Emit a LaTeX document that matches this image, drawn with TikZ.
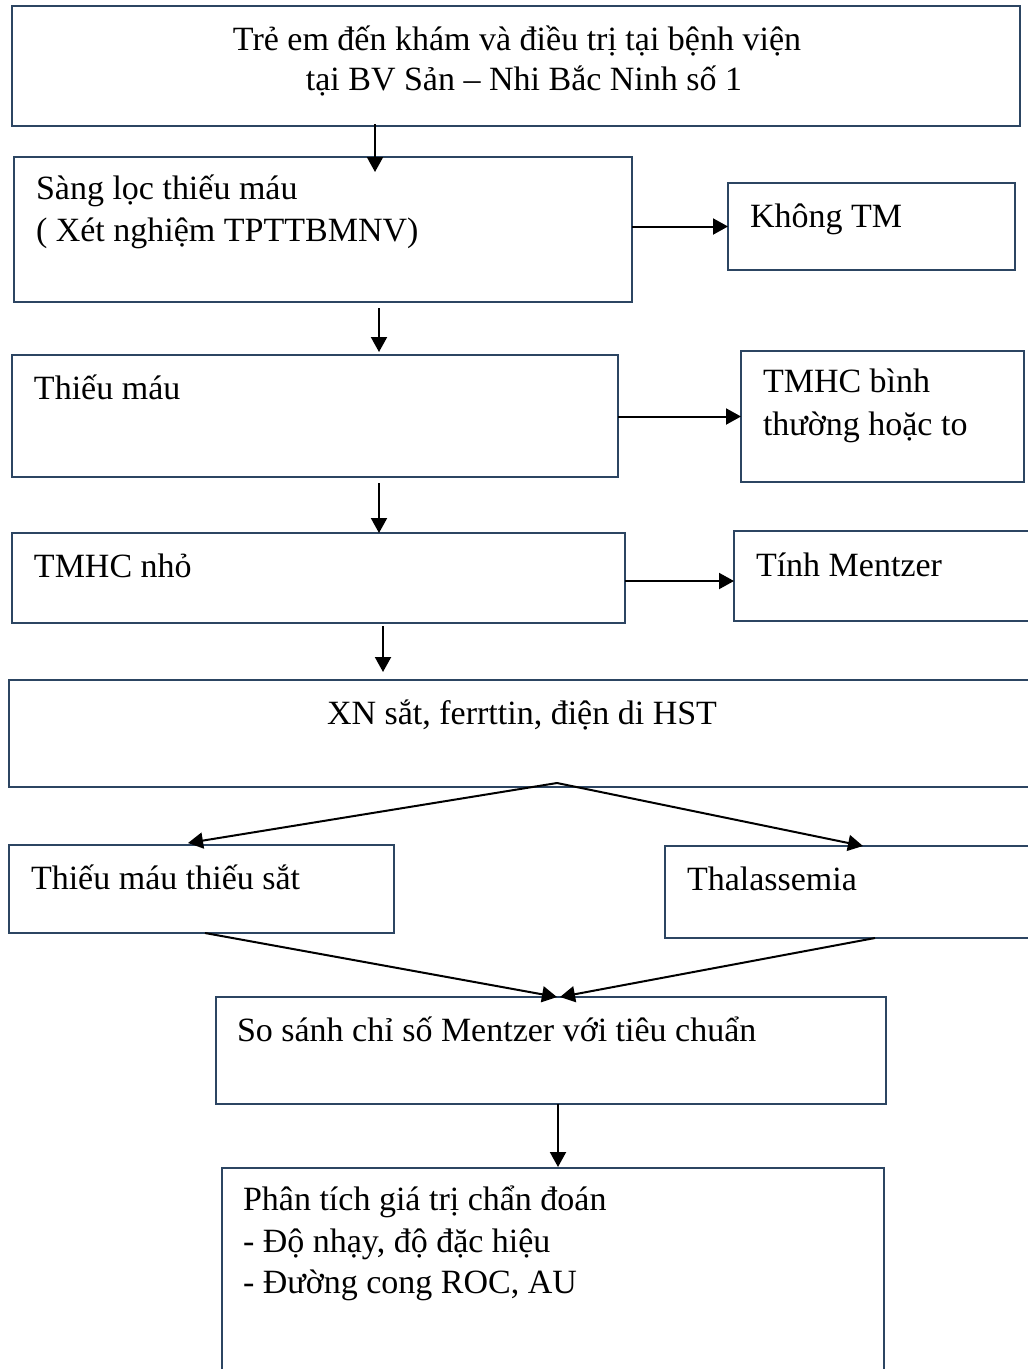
\documentclass[tikz,border=0pt]{standalone}
\usepackage{fontspec}
\setmainfont{Liberation Serif}
\usetikzlibrary{arrows.meta}
\definecolor{boxc}{RGB}{44,69,98}
\begin{document}
\begin{tikzpicture}[x=1pt,y=-1pt,
  box/.style={draw=boxc, line width=2pt, inner sep=0pt, outer sep=0pt},
  txt/.style={inner sep=0pt, outer sep=0pt, font=\fontsize{34}{42}\selectfont, text=black},
  lt/.style={txt, anchor=base west},
  ct/.style={txt, anchor=base},
  arr/.style={draw=black, line width=2pt, -{Triangle[length=15pt,width=16pt]}}]
\useasboundingbox (0,0) rectangle (1028,1369);
\fill[white] (0,0) rectangle (1028,1369);

% boxes
\node[box, minimum width=1008pt, minimum height=120pt] (top) at (516,66) {};
\node[box, minimum width=618pt, minimum height=145pt] (sang) at (323,229.5) {};
\node[box, minimum width=287pt, minimum height=87pt] (khong) at (871.5,226.5) {};
\node[box, minimum width=606pt, minimum height=122pt] (thieu) at (315,416) {};
\node[box, minimum width=283pt, minimum height=131pt] (tmhcbt) at (882.5,416.5) {};
\node[box, minimum width=613pt, minimum height=90pt] (tmhcnho) at (318.5,578) {};
\node[box, minimum width=306pt, minimum height=90pt] (mentzer) at (887,576) {};
\node[box, minimum width=1031pt, minimum height=107pt] (xn) at (524.5,733.5) {};
\node[box, minimum width=385pt, minimum height=88pt] (ttms) at (201.5,889) {};
\node[box, minimum width=375pt, minimum height=92pt] (thal) at (852.5,892) {};
\node[box, minimum width=670pt, minimum height=107pt] (sosanh) at (551,1050.5) {};
\node[box, minimum width=662pt, minimum height=222pt] (phan) at (553,1279) {};

% texts
\node[ct] (t1a) at (517,50) {Trẻ em đến khám và điều trị tại bệnh viện};
\node[ct] (t1b) at (524,90) {tại BV Sản – Nhi Bắc Ninh số 1};
\node[lt] (t2a) at (36,199) {Sàng lọc thiếu máu};
\node[lt] (t2b) at (36,241) {( Xét nghiệm TPTTBMNV)};
\node[lt] (t3) at (750,227) {Không TM};
\node[lt] (t4) at (34,399) {Thiếu máu};
\node[lt] (t5a) at (763,392) {TMHC bình};
\node[lt] (t5b) at (763,435) {thường hoặc to};
\node[lt] (t6) at (34,577) {TMHC nhỏ};
\node[lt] (t7) at (756,576) {Tính Mentzer};
\node[ct] (t8) at (522,724) {XN sắt, ferrttin, điện di HST};
\node[lt] (t9) at (31,889) {Thiếu máu thiếu sắt};
\node[lt] (t10) at (687,890) {Thalassemia};
\node[lt] (t11) at (237,1041) {So sánh chỉ số Mentzer với tiêu chuẩn};
\node[lt] (t12a) at (243,1210) {Phân tích giá trị chẩn đoán};
\node[lt] (t12b) at (243,1252) {- Độ nhạy, độ đặc hiệu};
\node[lt] (t12c) at (243,1293) {- Đường cong ROC, AU};

% connectors
\draw[arr] ([xshift=-141pt,yshift=2pt]top.south) -- ([xshift=52pt,yshift=-15pt]sang.north);
\draw[arr] (sang.east |- khong.west) -- (khong.west);
\draw[arr] ([xshift=56pt,yshift=-6pt]sang.south) -- ([xshift=64pt,yshift=3pt]thieu.north);
\draw[arr] (thieu.east |- tmhcbt.west) -- (tmhcbt.west);
\draw[arr] ([xshift=64pt,yshift=-6pt]thieu.south) -- ([xshift=60.5pt]tmhcnho.north);
\draw[arr] ([yshift=-3pt]tmhcnho.east) -- ([yshift=-5pt]mentzer.west);
\draw[arr] ([xshift=64.5pt,yshift=-3pt]tmhcnho.south) -- ([xshift=-141.5pt,yshift=8pt]xn.north);
\coordinate (split) at ([xshift=32.5pt,yshift=4pt]xn.south);
\draw[arr] (split) -- ([xshift=-13.5pt,yshift=2pt]ttms.north);
\draw[arr] (split) -- ([xshift=10.5pt]thal.north);
\draw[arr] ([xshift=3.5pt]ttms.south) -- ([xshift=6pt]sosanh.north);
\draw[arr] ([xshift=22.5pt]thal.south) -- ([xshift=9pt]sosanh.north);
\draw[arr] ([xshift=7pt]sosanh.south) -- ([xshift=5pt,yshift=1pt]phan.north);
\end{tikzpicture}
\end{document}
